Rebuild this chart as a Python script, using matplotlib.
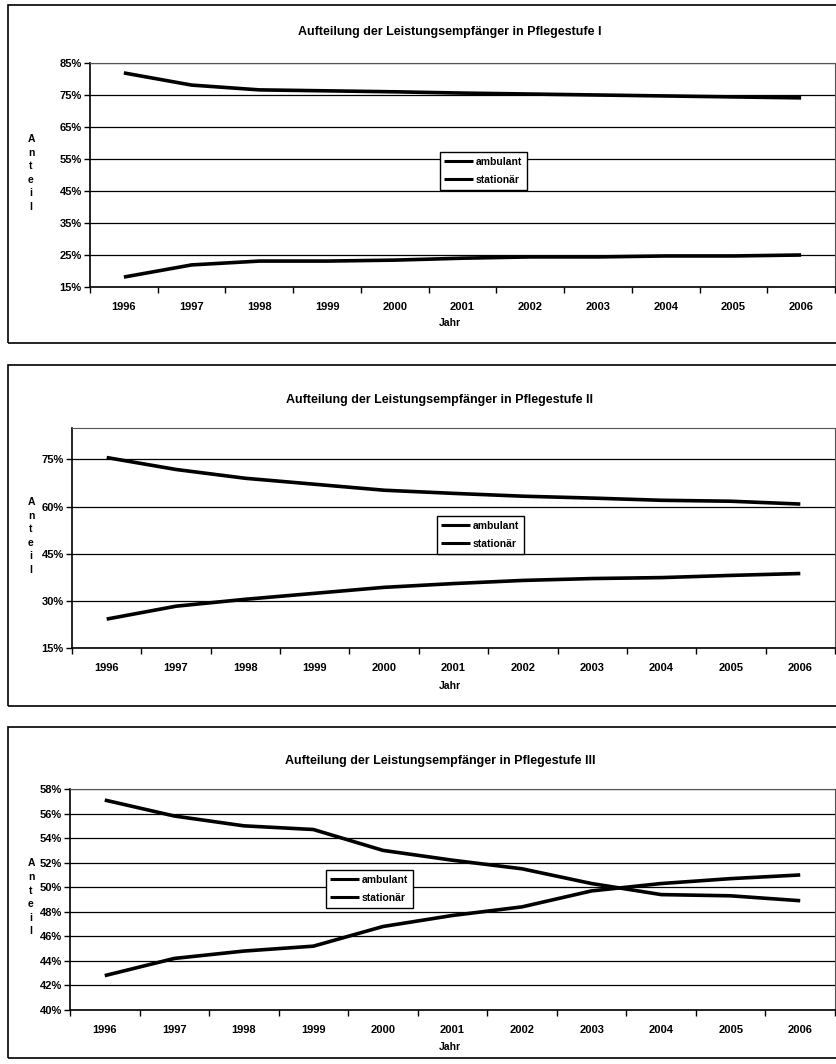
import matplotlib
matplotlib.use('Agg')
import matplotlib.pyplot as plt
from matplotlib.patches import Rectangle

plt.rcParams['font.family'] = ['Liberation Sans', 'DejaVu Sans']
plt.rcParams['font.weight'] = 'bold'

# data (in %)
jahre = ['1996', '1997', '1998', '1999', '2000', '2001', '2002', '2003', '2004', '2005', '2006']

stufe1_ambulant = [81.9, 78.1, 76.6, 76.3, 76.0, 75.6, 75.3, 75.0, 74.7, 74.4, 74.1]
stufe1_stationaer = [18.1, 21.9, 23.1, 23.1, 23.4, 24.0, 24.4, 24.4, 24.7, 24.7, 25.0]

stufe2_ambulant = [75.6, 71.8, 69.0, 67.1, 65.2, 64.2, 63.3, 62.7, 62.0, 61.7, 60.8]
stufe2_stationaer = [24.2, 28.3, 30.5, 32.4, 34.3, 35.5, 36.5, 37.1, 37.4, 38.1, 38.7]

stufe3_ambulant = [57.1, 55.8, 55.0, 54.7, 53.0, 52.2, 51.5, 50.3, 49.4, 49.3, 48.9]
stufe3_stationaer = [42.8, 44.2, 44.8, 45.2, 46.8, 47.7, 48.4, 49.7, 50.3, 50.7, 51.0]

titles = ['Aufteilung der Leistungsempfänger in Pflegestufe I',
          'Aufteilung der Leistungsempfänger in Pflegestufe II',
          'Aufteilung der Leistungsempfänger in Pflegestufe III']
y_ticks = [[15, 25, 35, 45, 55, 65, 75, 85],
           [15, 30, 45, 60, 75],
           [40, 42, 44, 46, 48, 50, 52, 54, 56, 58]]
y_lims = [(15, 85), (15, 85), (40, 58)]

W, H = 836, 1064
fig = plt.figure(figsize=(W / 100, H / 100), dpi=100)


def px_axes(left, top, right, bottom):
    return fig.add_axes([left / W, 1 - bottom / H, (right - left) / W, (bottom - top) / H])


# panel frames (left, top, right, bottom in pixels)
panels = [(8, 5, 845, 343), (8, 365, 845, 706), (8, 727, 845, 1058)]
axes_px = [(90, 63, 835, 287), (72, 428, 835, 648), (70, 789, 835, 1010)]
legend_px = [(483, 171), (480, 535), (369, 889)]
title_y = [32, 400, 761]
jahr_y = [323, 686, 1047]
title_x = [450, 440, 440]

data = [(stufe1_ambulant, stufe1_stationaer),
        (stufe2_ambulant, stufe2_stationaer),
        (stufe3_ambulant, stufe3_stationaer)]

x = list(range(len(jahre)))

for i in range(3):
    l, t, r, b = panels[i]
    fig.patches.append(Rectangle((l / W, 1 - b / H), (r - l) / W, (b - t) / H,
                                 transform=fig.transFigure, fill=False,
                                 edgecolor='black', linewidth=1.2))

    ax = px_axes(*axes_px[i])
    amb, stat = data[i]
    ax.plot(x, amb, color='black', linewidth=2.6, label='ambulant', solid_capstyle='butt')
    ax.plot(x, stat, color='black', linewidth=2.6, label='stationär', solid_capstyle='butt')

    ax.set_xlim(-0.5, len(jahre) - 0.5)
    ax.set_ylim(*y_lims[i])
    ax.set_yticks(y_ticks[i])
    ax.set_yticklabels([f'{v}%' for v in y_ticks[i]], fontsize=8, fontweight='bold')
    ax.set_xticks(x)
    ax.set_xticklabels(jahre, fontsize=8, fontweight='bold')
    ax.set_xticks([k - 0.5 for k in range(len(jahre) + 1)], minor=True)
    ax.tick_params(axis='x', which='major', length=0, pad=11)
    ax.tick_params(axis='x', which='minor', length=4, width=1, direction='out')
    ax.tick_params(axis='y', length=4, width=1, direction='out', pad=2)
    ax.yaxis.grid(True, color='black', linewidth=0.9)
    ax.set_axisbelow(True)
    for side in ['left', 'bottom']:
        ax.spines[side].set_linewidth(1.2)
    for side in ['top', 'right']:
        ax.spines[side].set_linewidth(0.8)
        ax.spines[side].set_color('#555555')

    leg = ax.legend(loc='center', bbox_to_anchor=(legend_px[i][0] / W, 1 - legend_px[i][1] / H),
                    bbox_transform=fig.transFigure, fontsize=7.5, frameon=True,
                    fancybox=False, edgecolor='black', handlelength=2.8,
                    handletextpad=0.2, borderpad=0.45, labelspacing=0.75, framealpha=1)
    leg.get_frame().set_linewidth(1.0)
    for line in leg.get_lines():
        line.set_linewidth(2.2)

    fig.text(title_x[i] / W, 1 - title_y[i] / H, titles[i], ha='center', va='center',
             fontsize=9, fontweight='bold')
    fig.text(450 / W, 1 - jahr_y[i] / H, 'Jahr', ha='center', va='center',
             fontsize=7.5, fontweight='bold')
    ymid = (axes_px[i][1] + axes_px[i][3]) / 2
    fig.text(31 / W, 1 - (ymid - 2) / H, 'A\nn\nt\ne\ni\nl', ha='center', va='center',
             fontsize=7.5, fontweight='bold', linespacing=1.45)

fig.savefig('out.png', dpi=100)
